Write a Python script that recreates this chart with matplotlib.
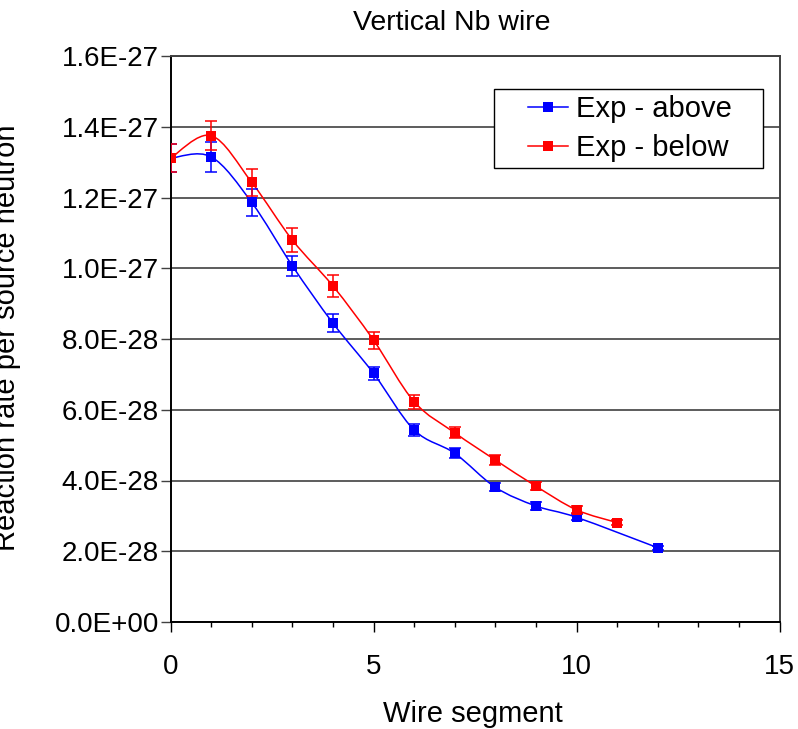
import numpy as np
import matplotlib
matplotlib.use("Agg")
import matplotlib.pyplot as plt
from matplotlib.path import Path
from matplotlib.patches import PathPatch, Rectangle
from matplotlib.lines import Line2D
from matplotlib.ticker import FuncFormatter, MultipleLocator

plt.rcParams['font.family'] = ['Liberation Sans', 'DejaVu Sans']

# ---- data ----
seg_above = [0, 1, 2, 3, 4, 5, 6, 7, 8, 9, 10, 12]
rate_above = [1.311e-27, 1.315e-27, 1.186e-27, 1.007e-27, 0.845e-27, 0.703e-27,
              0.543e-27, 0.477e-27, 0.381e-27, 0.328e-27, 0.296e-27, 0.210e-27]
err_above = [0.040e-27, 0.043e-27, 0.037e-27, 0.029e-27, 0.025e-27, 0.018e-27,
             0.016e-27, 0.014e-27, 0.011e-27, 0.010e-27, 0.009e-27, 0.006e-27]

seg_below = [0, 1, 2, 3, 4, 5, 6, 7, 8, 9, 10, 11]
rate_below = [1.311e-27, 1.375e-27, 1.243e-27, 1.080e-27, 0.950e-27, 0.797e-27,
              0.623e-27, 0.535e-27, 0.458e-27, 0.384e-27, 0.317e-27, 0.281e-27]
err_below = [0.040e-27, 0.041e-27, 0.038e-27, 0.034e-27, 0.030e-27, 0.024e-27,
             0.020e-27, 0.016e-27, 0.014e-27, 0.011e-27, 0.010e-27, 0.008e-27]

labels = ["Exp - above", "Exp - below"]
colors = ["#0000FF", "#FF0000"]

W, H = 798, 729
fig = plt.figure(figsize=(W / 100, H / 100), dpi=100)
ax = fig.add_axes([170.5 / W, (H - 622) / H, 609 / W, 566 / H])


def smooth_path(xs, ys):
    """Excel-like smoothed line (Catmull-Rom as cubic Bezier)."""
    P = np.column_stack([xs, ys]).astype(float)
    n = len(P)
    verts = [P[0]]
    codes = [Path.MOVETO]
    for i in range(n - 1):
        p0 = P[i - 1] if i > 0 else P[i]
        p1 = P[i]
        p2 = P[i + 1]
        p3 = P[i + 2] if i + 2 < n else P[i + 1]
        c1 = p1 + (p2 - p0) / 6.0
        c2 = p2 - (p3 - p1) / 6.0
        verts += [c1, c2, p2]
        codes += [Path.CURVE4] * 3
    return Path(verts, codes)


series = [(seg_above, rate_above, err_above), (seg_below, rate_below, err_below)]
for (xs, ys, es), c in zip(series, colors):
    ax.add_patch(PathPatch(smooth_path(xs, ys), facecolor='none', edgecolor=c,
                           lw=1.1, zorder=3))
    ax.errorbar(xs, ys, yerr=es, fmt='none', ecolor=c, elinewidth=1.1,
                capsize=4.0, capthick=1.1, zorder=4)
    ax.plot(xs, ys, linestyle='none', marker='s', markersize=6.5, color=c,
            markeredgewidth=0, zorder=5)

ax.set_xlim(0, 15)
ax.set_ylim(0, 1.6e-27)
ax.yaxis.set_major_locator(MultipleLocator(0.2e-27))
ax.yaxis.set_major_formatter(FuncFormatter(lambda v, p: f"{v:.1E}"))
ax.yaxis.get_offset_text().set_visible(False)
ax.xaxis.set_major_locator(MultipleLocator(5))
ax.xaxis.set_minor_locator(MultipleLocator(1))

ax.grid(axis='y', color='#303030', lw=1.1, zorder=1)
ax.set_axisbelow(True)

ax.tick_params(axis='y', which='major', direction='out', length=7.2, width=1,
               color='#404040', labelsize=20, pad=1)
ax.tick_params(axis='x', which='major', direction='out', length=7.2, width=1,
               labelsize=20, pad=16)
ax.tick_params(axis='x', which='minor', direction='out', length=3.6, width=1)

for s in ['left', 'bottom']:
    ax.spines[s].set_color('black')
    ax.spines[s].set_linewidth(1.4)
for s in ['top', 'right']:
    ax.spines[s].set_color('#404040')
    ax.spines[s].set_linewidth(1.4)

# titles and labels
fig.text(452 / W, 1 - 30 / H, "Vertical Nb wire", fontsize=20.5,
         ha='center', va='baseline')
fig.text(473 / W, 1 - 721.7 / H, "Wire segment", fontsize=21,
         ha='center', va='baseline')
fig.text(15 / W, 1 - 338 / H, "Reaction rate per source neutron", fontsize=21,
         rotation=90, rotation_mode='anchor', ha='center', va='baseline')

# legend
handles = [Line2D([], [], color=c, lw=1.1, marker='s', markersize=6.5,
                  markeredgewidth=0) for c in colors]
lx0, ly0, lx1, ly1 = 494, 89, 763, 168
to_ax = lambda px, py: ((px - 170.5) / 609, (622 - py) / 566)
a0 = to_ax(lx0, ly1)
a1 = to_ax(lx1, ly0)
ax.add_patch(Rectangle(a0, a1[0] - a0[0], a1[1] - a0[1], transform=ax.transAxes,
                       facecolor='white', edgecolor='black', lw=1.0, zorder=6))
leg = ax.legend(handles, labels, loc='center',
                bbox_to_anchor=((a0[0] + a1[0]) / 2 + 0.003, (a0[1] + a1[1]) / 2),
                frameon=False, fontsize=21, handlelength=1.35, handletextpad=0.3,
                labelspacing=0.38, borderpad=0, borderaxespad=0)
leg.set_zorder(7)

fig.savefig("out.png", dpi=100)
